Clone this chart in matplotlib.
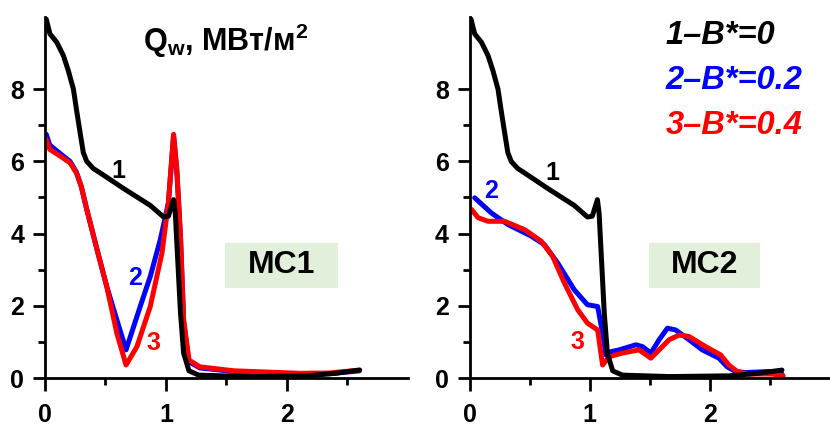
import matplotlib
matplotlib.use("Agg")
import matplotlib.pyplot as plt
from matplotlib.ticker import FixedLocator
from matplotlib.patches import Rectangle

plt.rcParams['font.family'] = ['Liberation Sans', 'DejaVu Sans']
plt.rcParams['font.weight'] = 'bold'
plt.rcParams['mathtext.fontset'] = 'custom'
plt.rcParams['mathtext.rm'] = 'Liberation Sans:bold'
plt.rcParams['mathtext.bf'] = 'Liberation Sans:bold'

# curve 1, B*=0 (same in both panels)
x1 = [0.01, 0.041, 0.097, 0.152, 0.193, 0.235, 0.26, 0.29, 0.317, 0.345, 0.40,
      0.456, 0.649, 0.87, 0.98, 1.02, 1.063, 1.077, 1.12, 1.146, 1.19, 1.27,
      1.66, 2.16, 2.4, 2.6]
y1 = [9.94, 9.53, 9.3, 8.93, 8.51, 8.0, 7.44, 6.8, 6.24, 6.0, 5.8,
      5.68, 5.25, 4.78, 4.46, 4.48, 4.94, 4.57, 1.8, 0.69, 0.2, 0.08,
      0.04, 0.06, 0.13, 0.22]

# MC1, curve 2 (B*=0.2)
x2_mc1 = [0.01, 0.04, 0.124, 0.207, 0.26, 0.30, 0.345, 0.43, 0.51, 0.594, 0.67,
          0.787, 0.87, 0.953, 1.02, 1.063, 1.09, 1.12, 1.146, 1.19, 1.28, 1.56,
          2.11, 2.35, 2.6]
y2_mc1 = [6.75, 6.45, 6.22, 6.0, 5.7, 5.3, 4.67, 3.56, 2.54, 1.61, 0.78,
          1.98, 2.81, 3.83, 4.85, 6.7, 5.7, 3.9, 1.55, 0.45, 0.28, 0.18,
          0.11, 0.12, 0.2]

# MC1, curve 3 (B*=0.4)
x3_mc1 = [0.01, 0.04, 0.124, 0.207, 0.26, 0.30, 0.345, 0.43, 0.51, 0.594, 0.67,
          0.76, 0.87, 0.967, 1.02, 1.063, 1.09, 1.12, 1.146, 1.19, 1.28, 1.56,
          2.11, 2.35, 2.6]
y3_mc1 = [6.61, 6.33, 6.15, 5.96, 5.68, 5.31, 4.67, 3.56, 2.54, 1.24, 0.36,
          0.87, 1.98, 3.46, 4.85, 6.75, 5.78, 3.93, 1.61, 0.5, 0.31, 0.2,
          0.13, 0.14, 0.22]

# MC2, curve 2 (B*=0.2)
x2_mc2 = [0.041, 0.18, 0.318, 0.512, 0.622, 0.733, 0.871, 0.98, 1.065, 1.106,
          1.134, 1.176, 1.245, 1.383, 1.438, 1.508, 1.577, 1.646, 1.715, 1.826,
          1.936, 2.075, 2.144, 2.213, 2.296, 2.49, 2.6]
y2_mc2 = [4.99, 4.57, 4.25, 3.93, 3.69, 3.18, 2.44, 2.03, 1.98, 1.24,
          0.64, 0.73, 0.78, 0.92, 0.87, 0.69, 1.06, 1.38, 1.33, 1.06,
          0.78, 0.55, 0.31, 0.18, 0.15, 0.18, 0.11]

# MC2, curve 3 (B*=0.4)
x3_mc2 = [0.014, 0.069, 0.152, 0.29, 0.456, 0.595, 0.69, 0.788, 0.899, 0.98,
          1.065, 1.106, 1.16, 1.27, 1.41, 1.508, 1.577, 1.66, 1.743, 1.826,
          1.964, 2.089, 2.158, 2.227, 2.32, 2.52, 2.61]
y3_mc2 = [4.67, 4.44, 4.34, 4.34, 4.11, 3.79, 3.37, 2.63, 1.89, 1.52,
          1.33, 0.36, 0.59, 0.69, 0.78, 0.55, 0.78, 1.06, 1.19, 1.15,
          0.87, 0.64, 0.36, 0.18, 0.11, 0.11, 0.06]

legend_labels = ["1\u2013B*=0", "2\u2013B*=0.2", "3\u2013B*=0.4"]
colors = ["black", "#0000ff", "#ff0000"]
panel_names = ["МС1", "МС2"]

fig = plt.figure(figsize=(8.3, 4.34), dpi=100)
axL = fig.add_axes([0.0542, 0.129, 0.4373, 0.832])
axR = fig.add_axes([0.566, 0.129, 0.434, 0.832])

lw = 3.6
style = dict(lw=lw, solid_joinstyle='round', solid_capstyle='round')
axL.plot(x2_mc1, y2_mc1, color=colors[1], **style)
axL.plot(x3_mc1, y3_mc1, color=colors[2], **style)
axL.plot(x1, y1, color=colors[0], **style)

axR.plot(x2_mc2, y2_mc2, color=colors[1], **style)
axR.plot(x3_mc2, y3_mc2, color=colors[2], **style)
axR.plot(x1, y1, color=colors[0], **style)

for ax, name in zip([axL, axR], panel_names):
    ax.set_xlim(0, 3)
    ax.set_ylim(0, 10)
    for s in ['top', 'right']:
        ax.spines[s].set_visible(False)
    for s in ['left', 'bottom']:
        ax.spines[s].set_linewidth(2.0)
    ax.xaxis.set_major_locator(FixedLocator([0, 1, 2]))
    ax.xaxis.set_minor_locator(FixedLocator([0.5, 1.5, 2.5]))
    ax.yaxis.set_major_locator(FixedLocator([0, 2, 4, 6, 8]))
    ax.yaxis.set_minor_locator(FixedLocator([1, 3, 5, 7]))
    ax.tick_params(which='major', length=9, width=2, labelsize=18)
    ax.tick_params(which='minor', length=5, width=2)
    ax.tick_params(axis='x', which='major', pad=9)
    ax.tick_params(axis='y', which='major', pad=6)
    for lab in ax.get_xticklabels() + ax.get_yticklabels():
        lab.set_fontweight('bold')
    ax.add_patch(Rectangle((1.49, 2.5), 0.93, 1.25, facecolor='#e2efda',
                           edgecolor='none', zorder=0))
    ax.text(1.955, 3.12, name, ha='center', va='center', fontsize=23,
            fontweight='bold')

axL.text(1.49, 9.05, r"Q$_{\mathrm{w}}$, МВт/м$^{\mathrm{2}}$", ha='center',
         va='baseline', fontsize=22, fontweight='bold')

for lab, yy, c in zip(legend_labels, [9.25, 8.0, 6.75], colors):
    axR.text(1.63, yy, lab, color=c, fontsize=23.5, fontweight='bold',
             fontstyle='italic', ha='left', va='baseline', clip_on=False)

fs = 18
axL.text(0.605, 5.72, "1", color=colors[0], fontsize=fs, ha='center', va='center')
axL.text(0.745, 2.78, "2", color=colors[1], fontsize=fs, ha='center', va='center')
axL.text(0.895, 0.97, "3", color=colors[2], fontsize=fs, ha='center', va='center')
axR.text(0.69, 5.69, "1", color=colors[0], fontsize=fs, ha='center', va='center')
axR.text(0.18, 5.17, "2", color=colors[1], fontsize=fs, ha='center', va='center')
axR.text(0.90, 1.0, "3", color=colors[2], fontsize=fs, ha='center', va='center')

fig.savefig("out.png", dpi=100)
